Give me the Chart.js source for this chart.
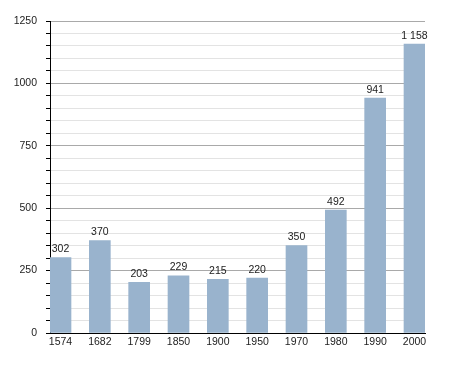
<!DOCTYPE html>
<html lang="en">
<head>
    <meta charset="UTF-8">
    <title>Population</title>
    <script src="https://cdn.jsdelivr.net/npm/chart.js"></script>
    <style>
        body {
            margin: 0;
            padding: 0;
            background-color: #ffffff;
        }
    </style>
</head>
<body>
    <canvas id="population-chart" width="455" height="373"></canvas>

    <script>
        // Data
        const years = ['1574', '1682', '1799', '1850', '1900', '1950', '1970', '1980', '1990', '2000'];
        const population = [302, 370, 203, 229, 215, 220, 350, 492, 941, 1158];
        const yMax = 1250;
        const yMinorStep = 50;
        const yMajorStep = 250;

        // "1158" -> "1 158"
        const formatValue = (v) => String(v).replace(/\B(?=(\d{3})+(?!\d))/g, ' ');

        // Value labels above each bar
        const barLabels = {
            id: 'barLabels',
            afterDatasetsDraw(chart) {
                const ctx = chart.ctx;
                const meta = chart.getDatasetMeta(0);
                ctx.save();
                ctx.font = '10.5px "Liberation Sans", Arial, sans-serif';
                ctx.fillStyle = '#222';
                ctx.textAlign = 'center';
                ctx.textBaseline = 'bottom';
                meta.data.forEach((bar, i) => {
                    ctx.fillText(formatValue(population[i]), bar.x, bar.y - 3);
                });
                ctx.restore();
            }
        };

        const ctx = document.getElementById('population-chart').getContext('2d');

        new Chart(ctx, {
            type: 'bar',
            data: {
                datasets: [{
                    data: population.map((v, i) => ({ x: i, y: v })),
                    backgroundColor: '#99b3cd',
                    barThickness: 21
                }]
            },
            options: {
                responsive: false,
                animation: false,
                layout: {
                    padding: { left: 0, right: 30, top: 21, bottom: 20 }
                },
                plugins: {
                    legend: { display: false },
                    tooltip: { enabled: false }
                },
                scales: {
                    x: {
                        type: 'linear',
                        offset: false,
                        min: -0.267,
                        max: years.length - 1 + 0.267,
                        afterFit: (scale) => { scale.height = 20; },
                        grid: { display: false, drawTicks: false },
                        border: { display: true, color: '#000', width: 1 },
                        ticks: {
                            stepSize: 1,
                            includeBounds: false,
                            autoSkip: false,
                            maxRotation: 0,
                            padding: 3,
                            color: '#222',
                            font: { family: '"Liberation Sans", Arial, sans-serif', size: 10.5 },
                            callback: (v) => years[v] ?? ''
                        }
                    },
                    y: {
                        min: 0,
                        max: yMax,
                        afterFit: (scale) => { scale.width = 50; },
                        grid: {
                            color: (c) => (c.tick && c.tick.value % yMajorStep === 0) ? '#a9a9a9' : '#e3e3e3',
                            tickColor: '#000',
                            tickLength: 4
                        },
                        border: { color: '#000', width: 1 },
                        ticks: {
                            stepSize: yMinorStep,
                            autoSkip: false,
                            padding: 9,
                            color: '#222',
                            font: { family: '"Liberation Sans", Arial, sans-serif', size: 10.5 },
                            callback: (v) => v % yMajorStep === 0 ? String(v) : ''
                        }
                    }
                }
            },
            plugins: [barLabels]
        });
    </script>
</body>
</html>
